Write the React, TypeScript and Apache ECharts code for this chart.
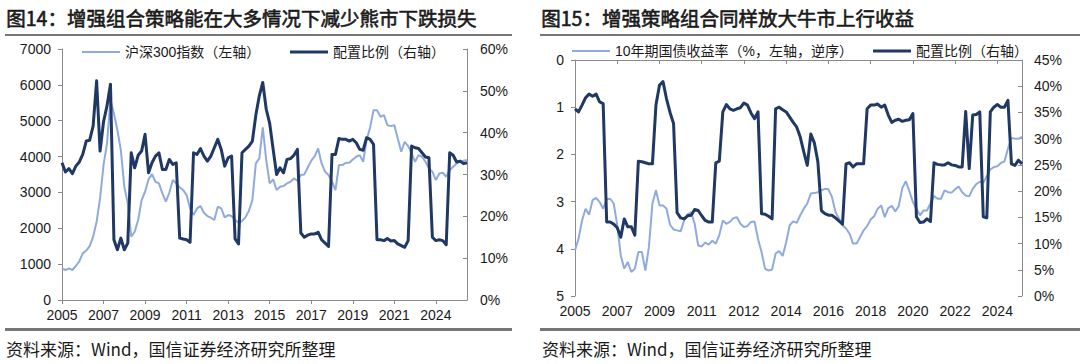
import React, { useEffect, useRef } from 'react';
import * as echarts from 'echarts';

// ---------- Left chart (图14) ----------
const TITLE_L = '图14：增强组合策略能在大多情况下减少熊市下跌损失';
const XLABELS_L = ['2005', '2007', '2009', '2011', '2013', '2015', '2017', '2019', '2021', '2024'];
const LEGEND_L1 = '沪深300指数（左轴）';
const LEGEND_L2 = '配置比例（右轴）';
// 沪深300指数 (left axis)
const HS300 = [
  883, 836, 883, 836, 948, 1078, 1300, 1380, 1500, 1765,
  2183, 2833, 3762, 4366, 5574, 5202, 4738, 4180, 3159, 2694,
  1765, 1904, 2230, 2787, 3019, 3363, 3512, 3298, 3252, 2973,
  2741, 2991, 3344, 3252, 3140, 3066, 2926, 2555, 2369, 2555,
  2620, 2434, 2341, 2295, 2230, 2601, 2555, 2304, 2369, 2341,
  2230, 2155, 2202, 2304, 2490, 2787, 3809, 3948, 4812, 3902,
  3252, 3363, 3066, 3159, 3177, 3252, 3298, 3391, 3326, 3484,
  3502, 3697, 3883, 4013, 4227, 3809, 3577, 3484, 3298, 3066,
  3762, 3762, 3827, 3827, 3920, 3995, 4041, 3855, 4459, 4812,
  5295, 5295, 5110, 5156, 4877, 4849, 4877, 4506, 4134, 4413,
  4292, 4088, 3855, 4041, 3995, 3855, 3670, 3577, 3344, 3530,
  3549, 3437, 3623, 3716, 3809, 3855, 3883, 3902,
];
// 配置比例 (right axis, %)
const ALLOC_L = [
  32.8, 30.6, 31.4, 30.2, 32.0, 33.0, 34.8, 38.0, 38.2, 41.6,
  52.4, 35.6, 42.6, 46.4, 51.6, 14.4, 12.0, 14.8, 12.0, 13.6,
  35.2, 31.6, 34.6, 35.6, 39.6, 30.4, 32.8, 34.4, 35.2, 31.2,
  31.2, 33.6, 32.4, 32.8, 14.8, 14.6, 14.4, 13.8, 35.2, 34.8,
  36.2, 34.4, 33.2, 34.4, 36.4, 38.4, 36.0, 32.0, 34.0, 34.4,
  14.6, 13.4, 35.2, 36.0, 36.8, 38.0, 44.2, 48.8, 52.0, 45.6,
  42.2, 36.0, 30.0, 31.6, 30.4, 33.6, 33.8, 34.6, 36.0, 16.0,
  15.0, 15.5, 15.8, 15.8, 16.2, 14.4, 13.6, 12.8, 34.8, 34.8,
  38.6, 38.4, 38.4, 38.0, 38.4, 37.6, 36.0, 35.8, 38.8, 38.4,
  37.2, 14.4, 14.4, 14.2, 14.7, 14.1, 14.2, 13.4, 13.0, 12.6,
  14.2, 36.8, 36.4, 36.2, 35.2, 34.2, 34.0, 15.0, 14.2, 14.4,
  14.2, 13.2, 35.2, 34.6, 33.0, 33.2, 32.6, 32.8,
];

// ---------- Right chart (图15) ----------
const TITLE_R = '图15：增强策略组合同样放大牛市上行收益';
const XLABELS_R = ['2005', '2007', '2009', '2011', '2012', '2014', '2016', '2018', '2020', '2022', '2024'];
const LEGEND_R1 = '10年期国债收益率（%，左轴，逆序）';
const LEGEND_R2 = '配置比例（右轴）';
// 10年期国债收益率 (left axis, inverted)
const YIELD10 = [
  4.03, 3.79, 3.40, 3.15, 3.28, 2.97, 2.92, 3.01, 3.15, 2.95,
  2.94, 3.04, 3.50, 4.14, 4.42, 4.28, 4.49, 4.42, 4.07, 4.07,
  4.46, 3.96, 3.04, 2.76, 3.08, 3.08, 3.15, 3.49, 3.59, 3.61,
  3.63, 3.40, 3.27, 3.23, 3.47, 3.93, 3.95, 3.87, 3.91, 3.83,
  3.89, 3.71, 3.40, 3.47, 3.43, 3.35, 3.33, 3.47, 3.54, 3.52,
  3.43, 3.42, 3.79, 4.07, 4.42, 4.46, 4.44, 4.10, 4.05, 4.15,
  3.86, 3.50, 3.42, 3.45, 3.29, 3.15, 3.04, 2.83, 2.82, 2.80,
  2.76, 2.73, 2.74, 2.90, 3.22, 3.36, 3.50, 3.57, 3.68, 3.89,
  3.89, 3.75, 3.61, 3.52, 3.38, 3.31, 3.15, 3.08, 3.33, 3.14,
  3.09, 3.21, 3.09, 2.71, 2.57, 2.78, 3.01, 3.15, 3.29, 3.19,
  3.19, 3.04, 2.88, 2.94, 2.94, 2.76, 2.80, 2.81, 2.74, 2.68,
  2.80, 2.87, 2.89, 2.73, 2.63, 2.58, 2.60, 2.46, 2.32, 2.27,
  2.25, 2.18, 2.15, 1.88, 1.65, 1.67, 1.67, 1.63,
];
// 配置比例 (right axis, %)
const ALLOC_R = [
  35.7, 35.1, 36.4, 37.8, 38.5, 38.1, 38.5, 37.0, 36.7, 14.1,
  14.1, 13.7, 13.0, 11.2, 14.7, 13.2, 13.2, 11.6, 25.7, 25.6,
  25.4, 25.2, 25.2, 36.4, 40.2, 40.9, 37.6, 35.0, 32.9, 15.9,
  14.9, 14.7, 15.3, 15.4, 16.5, 16.3, 15.3, 14.4, 14.1, 14.1,
  25.4, 25.7, 35.1, 36.5, 35.7, 35.4, 35.7, 35.9, 36.8, 36.4,
  34.9, 33.8, 35.1, 15.7, 15.6, 15.2, 14.7, 35.7, 36.0, 35.5,
  35.1, 34.1, 33.1, 32.2, 30.3, 27.5, 24.9, 30.9, 29.2, 25.6,
  16.3, 15.7, 15.4, 15.4, 14.9, 14.3, 13.7, 25.2, 25.4, 24.6,
  25.2, 25.2, 25.2, 35.7, 36.4, 36.4, 36.6, 36.0, 36.4, 34.5,
  33.1, 33.5, 33.7, 33.3, 33.5, 33.6, 34.8, 15.1, 14.0, 14.1,
  14.7, 14.2, 25.4, 25.1, 25.0, 25.0, 25.4, 25.0, 24.9, 24.6,
  24.6, 35.2, 24.3, 34.5, 34.6, 35.1, 15.1, 14.9, 35.1, 36.0,
  36.5, 36.0, 36.0, 37.3, 25.2, 24.9, 25.9, 25.2,
];

const SOURCE = '资料来源：Wind，国信证券经济研究所整理';
const STEP = 12; // data points between x-axis labels

const LIGHT = '#8FAADC';
const NAVY = '#1F3864';
const AXIS = '#8a8a8a';
const TXT = '#1a1a1a';
const LATIN = "'Liberation Sans', Arial, 'Noto Sans CJK SC', sans-serif";
const CJK = "'Noto Sans CJK SC', 'Liberation Sans', sans-serif";

export default function App() {
  const ref = useRef<HTMLDivElement>(null);

  useEffect(() => {
    if (!ref.current) return;
    const chart = echarts.init(ref.current, null, { renderer: 'svg' });

    const axisLine = { show: true, lineStyle: { color: AXIS, width: 1 } };
    const lbl = { color: TXT, fontSize: 14, fontFamily: LATIN };
    const every = (i: number) => i % STEP === 0;
    const plain = (v: number) => String(v);
    const pct = (v: number) => `${v}%`;

    const xAxisFor = (grid: number, n: number, labels: string[]) => ({
      type: 'category',
      gridIndex: grid,
      data: Array.from({ length: n }, (_, i) => String(i)),
      boundaryGap: false,
      axisLine,
      axisTick: { show: true, interval: every, length: 4, lineStyle: { color: AXIS } },
      axisLabel: {
        ...lbl,
        interval: every,
        margin: 8,
        formatter: (_v: string, i: number) => labels[i / STEP] ?? '',
      },
      splitLine: { show: false },
    });

    const legendFor = (name: string, left: number, top: number, h: number) => ({
      data: [name],
      left,
      top,
      padding: 0,
      icon: 'rect',
      itemWidth: 38,
      itemHeight: h,
      itemGap: 0,
      selectedMode: false,
      textStyle: { fontSize: 14, color: TXT, fontFamily: LATIN },
    });

    const option: any = {
      animation: false,
      backgroundColor: '#ffffff',
      grid: [
        { left: 62, top: 49, width: 405, height: 251 },
        { left: 575, top: 60, width: 447, height: 236 },
      ],
      xAxis: [xAxisFor(0, HS300.length, XLABELS_L), xAxisFor(1, YIELD10.length, XLABELS_R)],
      yAxis: [
        {
          type: 'value', gridIndex: 0, position: 'left', min: 0, max: 7000, interval: 1000,
          axisLine, axisTick: { show: true, length: 4, lineStyle: { color: AXIS } },
          axisLabel: { ...lbl, margin: 11, formatter: plain }, splitLine: { show: false },
        },
        {
          type: 'value', gridIndex: 0, position: 'right', min: 0, max: 60, interval: 10,
          axisLine, axisTick: { show: true, inside: true, length: 4, lineStyle: { color: AXIS } },
          axisLabel: { ...lbl, margin: 13, formatter: pct }, splitLine: { show: false },
        },
        {
          type: 'value', gridIndex: 1, position: 'left', inverse: true, min: 0, max: 5, interval: 1,
          axisLine, axisTick: { show: true, length: 4, lineStyle: { color: AXIS } },
          axisLabel: { ...lbl, margin: 11, formatter: plain }, splitLine: { show: false },
        },
        {
          type: 'value', gridIndex: 1, position: 'right', min: 0, max: 45, interval: 5,
          axisLine, axisTick: { show: true, inside: true, length: 4, lineStyle: { color: AXIS } },
          axisLabel: { ...lbl, margin: 12, formatter: pct }, splitLine: { show: false },
        },
      ],
      legend: [
        legendFor(LEGEND_L1, 82, 45, 2),
        legendFor(LEGEND_L2, 290, 45, 3),
        legendFor(LEGEND_R1, 572, 44, 2),
        legendFor(LEGEND_R2, 873, 44, 3),
      ],
      series: [
        {
          name: LEGEND_L1, type: 'line', xAxisIndex: 0, yAxisIndex: 0, data: HS300,
          symbol: 'none', lineStyle: { color: LIGHT, width: 2 }, itemStyle: { color: LIGHT },
        },
        {
          name: LEGEND_L2, type: 'line', xAxisIndex: 0, yAxisIndex: 1, data: ALLOC_L,
          symbol: 'none', lineStyle: { color: NAVY, width: 3, join: 'round' }, itemStyle: { color: NAVY },
        },
        {
          name: LEGEND_R1, type: 'line', xAxisIndex: 1, yAxisIndex: 2, data: YIELD10,
          symbol: 'none', lineStyle: { color: LIGHT, width: 2 }, itemStyle: { color: LIGHT },
        },
        {
          name: LEGEND_R2, type: 'line', xAxisIndex: 1, yAxisIndex: 3, data: ALLOC_R,
          symbol: 'none', lineStyle: { color: NAVY, width: 3, join: 'round' }, itemStyle: { color: NAVY },
        },
      ],
      graphic: [
        {
          type: 'text', left: 6, top: 7,
          style: { text: TITLE_L, fill: TXT, fontSize: 19.5, fontFamily: CJK, stroke: TXT, lineWidth: 0.6 },
        },
        {
          type: 'text', left: 541, top: 7,
          style: { text: TITLE_R, fill: TXT, fontSize: 19.5, fontFamily: CJK, stroke: TXT, lineWidth: 0.6 },
        },
        { type: 'line', shape: { x1: 5, y1: 35, x2: 512, y2: 35 }, style: { stroke: '#777', lineWidth: 2 } },
        { type: 'line', shape: { x1: 540, y1: 35, x2: 1080, y2: 35 }, style: { stroke: '#777', lineWidth: 2 } },
        { type: 'line', shape: { x1: 5, y1: 329.5, x2: 512, y2: 329.5 }, style: { stroke: '#777', lineWidth: 3 } },
        { type: 'line', shape: { x1: 540, y1: 329.5, x2: 1080, y2: 329.5 }, style: { stroke: '#777', lineWidth: 3 } },
        {
          type: 'text', left: 6, top: 340,
          style: { text: SOURCE, fill: TXT, fontSize: 17, fontFamily: CJK },
        },
        {
          type: 'text', left: 542, top: 340,
          style: { text: SOURCE, fill: TXT, fontSize: 17, fontFamily: CJK },
        },
      ],
    };

    chart.setOption(option);
    return () => chart.dispose();
  }, []);

  return (
    <div
      ref={ref}
      style={{ position: 'absolute', left: 0, top: 0, width: 1080, height: 364, background: '#fff' }}
    />
  );
}
